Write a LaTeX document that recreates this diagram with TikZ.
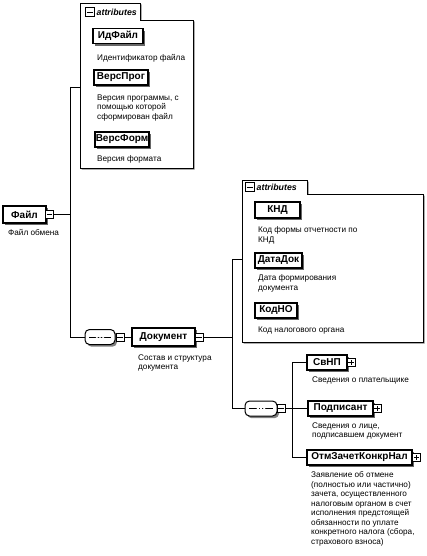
\documentclass[tikz,border=0pt]{standalone}
\usepackage{fontspec}
\setmainfont{Liberation Sans}
\newcommand\elemfont{\fontsize{10}{11}\selectfont\bfseries}
\newcommand\descfont{\fontsize{8.2}{9.5}\selectfont}
\newcommand\attrfont{\fontsize{8.8}{9}\selectfont\bfseries\itshape}
\tikzset{
  shadowed/.style={preaction={draw=none, fill=black!#1, transform canvas={xshift=2pt, yshift=-2.2pt}}},
  elem/.style={draw, line width=1.4pt, fill=white, font=\elemfont, inner sep=0pt,
    minimum height=15pt, shadowed=60},
  desc/.style={anchor=north west, inner sep=0pt, font=\descfont, align=left},
  iconbox/.style={draw, line width=0.7pt, fill=white, minimum size=8pt, inner sep=0pt},
  minusicon/.style={iconbox, path picture={
      \draw[line width=0.8pt] ([xshift=1.4pt]path picture bounding box.west) -- ([xshift=-1.4pt]path picture bounding box.east);}},
  plusicon/.style={iconbox, path picture={
      \draw[line width=0.8pt] ([xshift=1.4pt]path picture bounding box.west) -- ([xshift=-1.4pt]path picture bounding box.east);
      \draw[line width=0.8pt] ([yshift=1.4pt]path picture bounding box.south) -- ([yshift=-1.4pt]path picture bounding box.north);}},
  seqnode/.style={rectangle, rounded corners=4.5pt,
    draw, line width=1pt, fill=white, inner sep=0pt, minimum height=15pt, shadowed=50,
    path picture={
      \draw[line width=0.8pt] ([xshift=4pt]path picture bounding box.west) -- ([xshift=-4pt]path picture bounding box.east);
      \foreach \dx in {-3.2,0,3.2} \fill ([xshift=\dx pt]path picture bounding box.center) circle (1.2pt);}},
  attrbox/.style={draw, line width=0.9pt, fill=white,
    preaction={draw=none, fill=black!50, transform canvas={xshift=1.5pt, yshift=-1.5pt}}},
  attrlabel/.style={anchor=west, inner sep=0pt, font=\attrfont},
  conn/.style={line width=0.9pt}
}
\begin{document}
\begin{tikzpicture}[x=1pt,y=-1pt]
\useasboundingbox (0,0) rectangle (427,556);

% ---------- attributes box 1
\draw[attrbox] (80,168) |- (140,3) |- (193,20) -- (193,168) -- cycle;
\node[minusicon, minimum size=9pt] (a1icon) at (90,12) {};
\node[attrlabel] (a1lab) at (96.5,12) {attributes};
\node[elem, minimum width=50pt] (idf) at (118,36) {ИдФайл};
\node[desc] (idfd) at (97,54.5) {Идентификатор файла};
\node[elem, minimum width=54pt] (vprog) at (121,77.5) {ВерсПрог};
\node[desc] (vprogd) at (97,94.5) {Версия программы, с\\помощью которой\\сформирован файл};
\node[elem, minimum width=54pt] (vform) at (122,139.5) {ВерсФорм};
\node[desc] (vformd) at (97,155.5) {Версия формата};
\coordinate (a1in) at (80,87);

% ---------- root
\node[elem, minimum width=43pt, minimum height=17pt] (fajl) at (24.5,214.5) {Файл};
\node[minusicon] (fajlm) at (49.5,214.5) {};
\node[desc] (fajld) at (8,229.5) {Файл обмена};

\coordinate (t1) at (70,214.5);
\coordinate (t1top) at (70,87);
\coordinate (t1bot) at (70,337);
\draw[conn] (fajlm.east) -- (t1);
\draw[conn] (t1top) -- (t1bot);
\draw[conn] (t1top) -- (a1in);

% ---------- sequence 1 and Документ
\node[seqnode, minimum width=30pt] (seq1) at (100,337) {};
\node[minusicon] (seq1m) at (120,337) {};
\node[elem, minimum width=63pt, minimum height=18pt] (dok) at (163.5,337) {Документ};
\node[minusicon] (dokm) at (199,337) {};
\node[desc] (dokd) at (138,354.5) {Состав и структура\\документа};
\draw[conn] (t1bot) -- (seq1.west);
\draw[conn] (seq1m.east) -- (dok.west);

\coordinate (t2) at (232,337);
\coordinate (t2top) at (232,259);
\coordinate (t2bot) at (232,408.5);
\draw[conn] (dokm.east) -- (t2);
\draw[conn] (t2top) -- (t2bot);

% ---------- attributes box 2
\draw[attrbox] (242,342) |- (307,180) |- (423,194) -- (423,342) -- cycle;
\node[minusicon, minimum size=9pt] (a2icon) at (250,187) {};
\node[attrlabel] (a2lab) at (256.5,187) {attributes};
\node[elem, minimum width=45pt, minimum height=16pt] (knd) at (277.5,210) {КНД};
\node[desc] (kndd) at (258,226.5) {Код формы отчетности по\\КНД};
\node[elem, minimum width=47pt] (datadok) at (278.5,260.5) {ДатаДок};
\node[desc] (datadokd) at (258,274.5) {Дата формирования\\документа};
\node[elem, minimum width=42pt] (kodno) at (276,310.5) {КодНО};
\node[desc] (kodnod) at (258,326.5) {Код налогового органа};
\coordinate (a2in) at (242,259);
\draw[conn] (t2top) -- (a2in);

% ---------- sequence 2 and children
\node[seqnode, minimum width=32pt] (seq2) at (261,408.5) {};
\node[minusicon] (seq2m) at (281,408.5) {};
\draw[conn] (t2bot) -- (seq2.west);

\coordinate (t3) at (292,408.5);
\coordinate (t3top) at (292,362.5);
\coordinate (t3bot) at (292,457.5);
\draw[conn] (seq2m.east) -- (t3);
\draw[conn] (t3top) -- (t3bot);

\node[elem, minimum width=40pt] (svnp) at (327,362.5) {СвНП};
\node[plusicon] (svnpp) at (351,362.5) {};
\node[desc] (svnpd) at (312,376.5) {Сведения о плательщике};
\draw[conn] (t3top) -- (svnp.west);

\node[elem, minimum width=65pt] (podp) at (340.5,408.5) {Подписант};
\node[plusicon] (podpp) at (377,408.5) {};
\node[desc] (podpd) at (312,422.5) {Сведения о лице,\\подписавшем документ};
\draw[conn] (t3) -- (podp.west);

\node[elem, minimum width=105pt] (otm) at (359.5,457.5) {ОтмЗачетКонкрНал};
\node[plusicon] (otmp) at (416.5,457.5) {};
\node[desc] (otmd) at (311,471.5) {Заявление об отмене\\(полностью или частично)\\зачета, осуществленного\\налоговым органом в счет\\исполнения предстоящей\\обязанности по уплате\\конкретного налога (сбора,\\страхового взноса)};
\draw[conn] (t3bot) -- (otm.west);
\end{tikzpicture}
\end{document}
